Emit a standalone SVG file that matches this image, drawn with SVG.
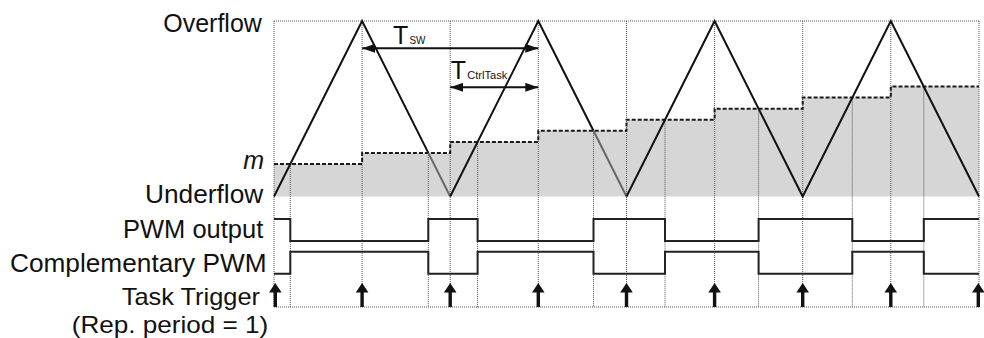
<svg xmlns="http://www.w3.org/2000/svg" xmlns:xlink="http://www.w3.org/1999/xlink" width="984" height="338" viewBox="0 0 984 338">
<defs>
<style>
.lbl{font-family:"Liberation Sans",Arial,sans-serif;font-size:25px;fill:#111;}
.sm{font-size:24px;}
.sub{font-family:"Liberation Sans",Arial,sans-serif;font-size:11px;fill:#111;}
.grid{stroke:#555;stroke-width:1;stroke-dasharray:1 1;fill:none;}
.step{stroke:#1a1a1a;stroke-width:2;stroke-dasharray:4 2;fill:none;}
.tri{stroke:#111;stroke-width:2;fill:none;stroke-linejoin:miter;}
.trig{stroke:#666;stroke-width:2;fill:none;}
.pwm{stroke:#222;stroke-width:2;fill:none;}
.dim{stroke:#111;stroke-width:2;fill:none;marker-start:url(#ah);marker-end:url(#ah);}
</style>
<marker id="ah" viewBox="0 0 13 9" refX="13" refY="4.5" markerWidth="13" markerHeight="9" markerUnits="userSpaceOnUse" orient="auto-start-reverse">
<path d="M0,0 L13,4.5 L0,9 Z" fill="#111"/>
</marker>
<path id="trigger" d="M-1.7,307 V292.5 H-6.3 L0,283 L6.3,292.5 H1.7 V307 Z" fill="#111"/>
</defs>
<rect width="984" height="338" fill="#fff"/>

<g id="duty-area">
<path d="M274,196.5 V164 H362.1 V152.9 H450.2 V141.9 H538.3 V130.8 H626.5 V119.7 H714.6 V108.65 H802.7 V97.6 H890.8 V86.5 H979 V196.5 Z" fill="#d6d6d6"/>
</g>

<g id="grid">
<path class="grid" d="M274,21 H979 M274,307 H979"/>
<path class="grid" d="M274,21 V307 M362.1,21 V307 M450.2,21 V307 M538.3,21 V307 M626.5,21 V307 M714.6,21 V307 M802.7,21 V307 M890.8,21 V307 M979,21 V307"/>
<path class="grid" d="M290.3,164 V307 M428.3,152.9 V307 M477.6,141.9 V307 M593.5,130.8 V307 M665,119.7 V307 M758.6,108.65 V307 M852.3,97.6 V307 M923.8,86.5 V307"/>
</g>

<g id="compare-value">
<path class="step" d="M274,164 H362.1 V152.9 H450.2 V141.9 H538.3 V130.8 H626.5 V119.7 H714.6 V108.65 H802.7 V97.6 H890.8 V86.5 H979"/>
</g>

<g id="carrier">
<path class="tri" d="M274,196.5 L362.1,21 L428.3,152.9"/>
<path class="trig" d="M428.3,152.9 L450.2,196.5"/>
<path class="tri" d="M450.2,196.5 L538.3,21 L593.5,130.8"/>
<path class="trig" d="M593.5,130.8 L626.5,196.5"/>
<path class="tri" d="M626.5,196.5 L714.6,21 L802.7,196.5 L890.8,21 L979,196.5"/>
</g>

<g id="pwm-output">
<path class="pwm" d="M274,219 H290.3 V241 H428.3 V219 H477.6 V241 H593.5 V219 H665 V241 H758.6 V219 H852.3 V241 H923.8 V219 H979"/>
</g>
<g id="complementary-pwm">
<path class="pwm" d="M274,273.7 H290.3 V251.7 H428.3 V273.7 H477.6 V251.7 H593.5 V273.7 H665 V251.7 H758.6 V273.7 H852.3 V251.7 H923.8 V273.7 H979"/>
</g>

<g id="task-triggers">
<use xlink:href="#trigger" x="275.3"/>
<use xlink:href="#trigger" x="362.1"/>
<use xlink:href="#trigger" x="450.2"/>
<use xlink:href="#trigger" x="538.3"/>
<use xlink:href="#trigger" x="626.5"/>
<use xlink:href="#trigger" x="714.6"/>
<use xlink:href="#trigger" x="802.7"/>
<use xlink:href="#trigger" x="890.8"/>
<use xlink:href="#trigger" x="978.3"/>
</g>

<g id="connectors">
<line class="dim" x1="362.1" y1="48.3" x2="538.3" y2="48.3"/>
<line class="dim" x1="450.2" y1="87.3" x2="538.3" y2="87.3"/>
</g>

<g id="dim-labels">
<text class="lbl" x="393" y="44.3">T</text>
<text class="sub" x="409.5" y="44.3" textLength="16" lengthAdjust="spacingAndGlyphs">SW</text>
<text class="lbl" x="450.8" y="79.3">T</text>
<text class="sub" x="467.3" y="79.3" textLength="40" lengthAdjust="spacingAndGlyphs">CtrlTask</text>
</g>

<g id="axis-labels">
<text class="lbl" x="163.3" y="32" textLength="98.5" lengthAdjust="spacingAndGlyphs">Overflow</text>
<text class="lbl" x="264" y="168.5" text-anchor="end" font-style="italic">m</text>
<text class="lbl" x="145" y="203.3" textLength="118.3" lengthAdjust="spacingAndGlyphs">Underflow</text>
<text class="lbl" x="123" y="238.3" textLength="140.3" lengthAdjust="spacingAndGlyphs">PWM output</text>
<text class="lbl" x="10" y="271.7" textLength="256.5" lengthAdjust="spacingAndGlyphs">Complementary PWM</text>
<text class="lbl sm" x="121.7" y="305.3" textLength="138.3" lengthAdjust="spacingAndGlyphs">Task Trigger</text>
<text class="lbl sm" x="71.7" y="332.5" textLength="196.6" lengthAdjust="spacingAndGlyphs">(Rep. period = 1)</text>
</g>
</svg>
